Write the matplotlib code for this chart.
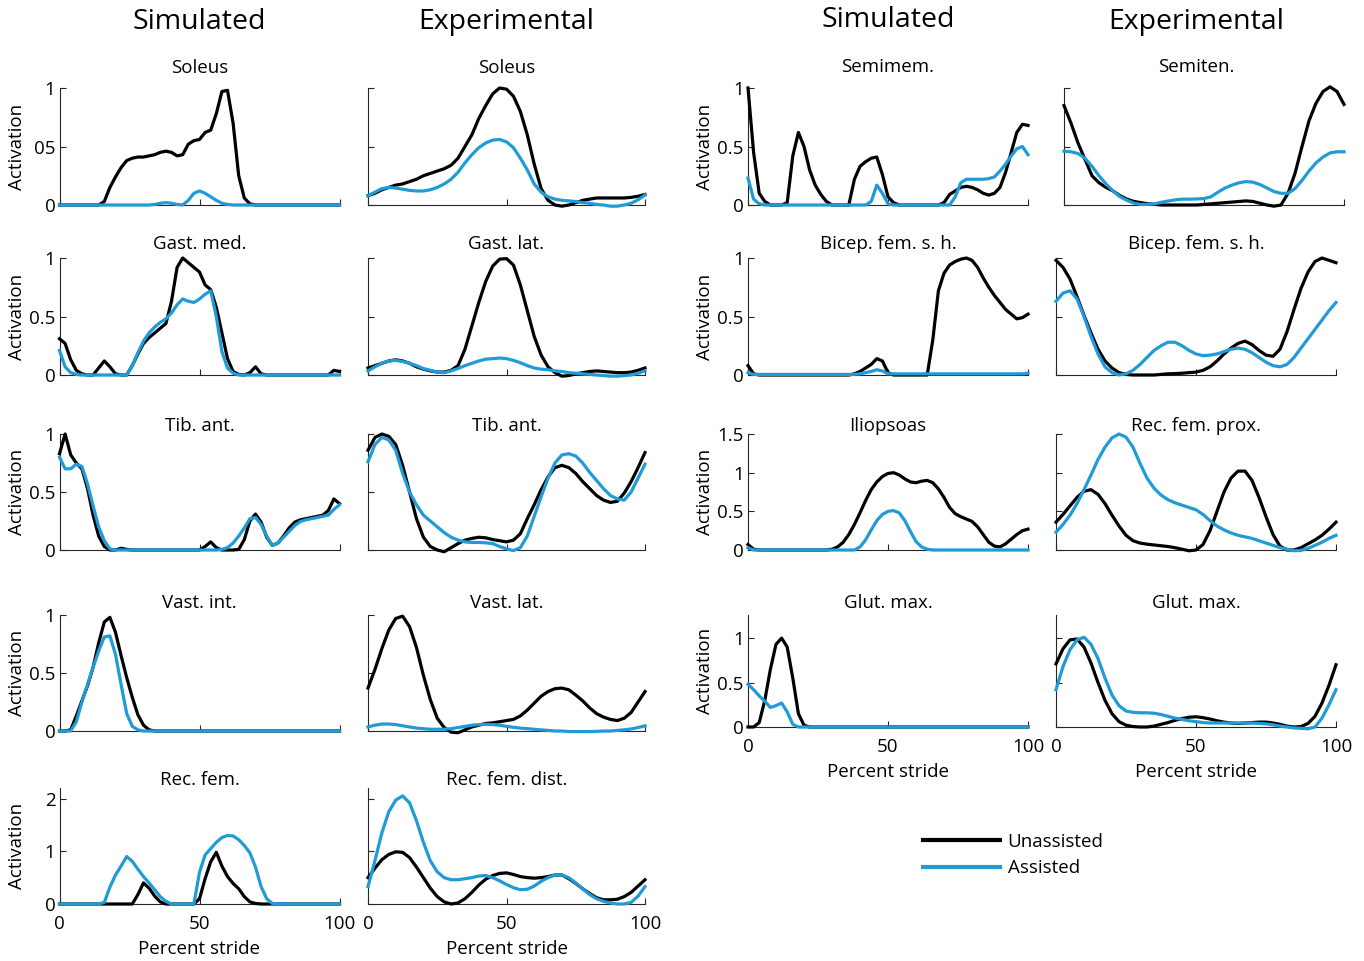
import numpy as np
import matplotlib
matplotlib.use('Agg')
import matplotlib.pyplot as plt

plt.rcParams['font.family'] = ['Open Sans', 'DejaVu Sans']

# figure size in pixels (dpi 100)
W, H = 1364, 961
BLACK = '#000000'
BLUE = '#1f9bd7'

# percent stride grids: simulated every 2 %, experimental every 2.5 %
X_SIM = np.linspace(0, 100, 51)
X_EXP = np.linspace(0, 100, 41)

# ---------------- left block ----------------
SOL_SIM_U = [0, 0, 0, 0, 0, 0, 0, 0, 0.03, 0.15, 0.24, 0.32, 0.38, 0.40, 0.41, 0.41, 0.42, 0.43,
             0.45, 0.46, 0.45, 0.42, 0.43, 0.52, 0.55, 0.56, 0.62, 0.64, 0.78, 0.97, 0.98, 0.70,
             0.25, 0.06, 0.01, 0, 0, 0, 0, 0, 0, 0, 0, 0, 0, 0, 0, 0, 0, 0, 0]
SOL_SIM_A = [0, 0, 0, 0, 0, 0, 0, 0, 0, 0, 0, 0, 0, 0, 0, 0, 0, 0.005, 0.015, 0.02, 0.015,
             0.005, 0.0, 0.04, 0.10, 0.12, 0.10, 0.07, 0.04, 0.015, 0.005, 0, 0, 0, 0, 0, 0,
             0, 0, 0, 0, 0, 0, 0, 0, 0, 0, 0, 0, 0, 0]
SOL_EXP_U = [0.08, 0.10, 0.13, 0.15, 0.17, 0.18, 0.20, 0.22, 0.25, 0.27, 0.29, 0.31, 0.34, 0.40,
             0.50, 0.60, 0.74, 0.85, 0.95, 1.0, 0.99, 0.93, 0.80, 0.60, 0.35, 0.14, 0.04, 0.0,
             -0.01, 0.0, 0.02, 0.04, 0.05, 0.06, 0.06, 0.06, 0.06, 0.06, 0.065, 0.075, 0.09]
SOL_EXP_A = [0.08, 0.11, 0.14, 0.15, 0.145, 0.135, 0.125, 0.12, 0.12, 0.13, 0.15, 0.18, 0.22,
             0.28, 0.36, 0.43, 0.49, 0.53, 0.555, 0.56, 0.54, 0.49, 0.40, 0.30, 0.18, 0.11, 0.07,
             0.05, 0.04, 0.035, 0.03, 0.02, 0.015, 0.005, 0.0, -0.01, -0.01, 0.0, 0.015, 0.045,
             0.085]

GM_SIM_U = [0.31, 0.27, 0.13, 0.04, 0.01, 0, 0, 0.06, 0.12, 0.07, 0.01, 0, 0, 0.08, 0.18, 0.27,
            0.32, 0.36, 0.40, 0.44, 0.63, 0.92, 1.0, 0.96, 0.92, 0.88, 0.77, 0.73, 0.58, 0.36,
            0.14, 0.03, 0.005, 0, 0.02, 0.07, 0.01, 0, 0, 0, 0, 0, 0, 0, 0, 0, 0, 0, 0, 0.04, 0.03]
GM_SIM_A = [0.21, 0.07, 0.02, 0.005, 0, 0, 0, 0, 0, 0, 0, 0, 0, 0.08, 0.19, 0.29, 0.36, 0.41,
            0.45, 0.48, 0.53, 0.60, 0.65, 0.63, 0.62, 0.65, 0.69, 0.72, 0.50, 0.20, 0.06, 0.015,
            0, 0, 0, 0, 0, 0, 0, 0, 0, 0, 0, 0, 0, 0, 0, 0, 0, 0, 0]
GL_EXP_U = [0.06, 0.08, 0.10, 0.12, 0.13, 0.12, 0.10, 0.07, 0.05, 0.035, 0.025, 0.025, 0.04,
            0.08, 0.22, 0.42, 0.62, 0.80, 0.93, 0.99, 0.995, 0.94, 0.77, 0.55, 0.33, 0.17, 0.07,
            0.02, -0.01, -0.005, 0.01, 0.02, 0.03, 0.035, 0.03, 0.025, 0.02, 0.02, 0.025, 0.04,
            0.06]
GL_EXP_A = [0.035, 0.07, 0.10, 0.12, 0.125, 0.115, 0.10, 0.08, 0.055, 0.04, 0.025, 0.02, 0.035,
            0.055, 0.08, 0.10, 0.12, 0.135, 0.14, 0.145, 0.14, 0.125, 0.105, 0.08, 0.06, 0.05,
            0.045, 0.035, 0.03, 0.02, 0.015, 0.01, 0.005, 0.0, -0.005, -0.01, -0.01, -0.005, 0.0,
            0.015, 0.035]

TA_SIM_U = [0.83, 1.0, 0.82, 0.75, 0.70, 0.53, 0.30, 0.12, 0.03, 0.0, 0, 0.015, 0.005, 0, 0, 0,
            0, 0, 0, 0, 0, 0, 0, 0, 0, 0, 0.03, 0.07, 0.02, 0, 0, 0, 0.005, 0.09, 0.25, 0.31,
            0.24, 0.11, 0.04, 0.06, 0.12, 0.19, 0.24, 0.26, 0.27, 0.28, 0.29, 0.30, 0.34, 0.44,
            0.40]
TA_SIM_A = [0.80, 0.70, 0.70, 0.74, 0.72, 0.57, 0.38, 0.20, 0.08, 0.01, 0, 0, 0, 0, 0, 0, 0, 0,
            0, 0, 0, 0, 0, 0, 0, 0, 0, 0, 0, 0.005, 0.02, 0.06, 0.12, 0.19, 0.27, 0.28, 0.22,
            0.12, 0.04, 0.06, 0.11, 0.16, 0.21, 0.245, 0.26, 0.27, 0.28, 0.29, 0.30, 0.35, 0.39]
TA_EXP_U = [0.86, 0.97, 1.0, 0.98, 0.91, 0.73, 0.50, 0.27, 0.11, 0.03, 0.0, -0.015, 0.02, 0.055,
            0.085, 0.10, 0.11, 0.105, 0.09, 0.08, 0.07, 0.085, 0.14, 0.27, 0.39, 0.52, 0.63, 0.71,
            0.73, 0.71, 0.66, 0.59, 0.53, 0.47, 0.43, 0.41, 0.42, 0.49, 0.59, 0.71, 0.84]
TA_EXP_A = [0.76, 0.91, 0.97, 0.95, 0.86, 0.66, 0.50, 0.39, 0.30, 0.25, 0.20, 0.15, 0.11, 0.085,
            0.07, 0.065, 0.065, 0.062, 0.055, 0.03, 0.01, -0.005, 0.02, 0.12, 0.29, 0.46, 0.62,
            0.75, 0.82, 0.83, 0.81, 0.75, 0.67, 0.60, 0.53, 0.47, 0.44, 0.43, 0.50, 0.62, 0.74]

VI_SIM_U = [0, 0, 0.01, 0.13, 0.26, 0.39, 0.55, 0.76, 0.94, 0.98, 0.85, 0.65, 0.46, 0.29, 0.14,
            0.05, 0.01, 0, 0, 0, 0, 0, 0, 0, 0, 0, 0, 0, 0, 0, 0, 0, 0, 0, 0, 0, 0, 0, 0, 0, 0,
            0, 0, 0, 0, 0, 0, 0, 0, 0, 0]
VI_SIM_A = [0, 0, 0.0, 0.08, 0.25, 0.40, 0.55, 0.69, 0.81, 0.82, 0.66, 0.40, 0.15, 0.04, 0.01,
            0, 0, 0, 0, 0, 0, 0, 0, 0, 0, 0, 0, 0, 0, 0, 0, 0, 0, 0, 0, 0, 0, 0, 0, 0, 0, 0, 0,
            0, 0, 0, 0, 0, 0, 0, 0]
VL_EXP_U = [0.37, 0.53, 0.71, 0.87, 0.97, 0.99, 0.90, 0.72, 0.48, 0.27, 0.11, 0.03, -0.01, -0.015,
            0.01, 0.035, 0.05, 0.065, 0.07, 0.08, 0.09, 0.10, 0.13, 0.18, 0.24, 0.30, 0.34, 0.365,
            0.37, 0.355, 0.31, 0.26, 0.20, 0.15, 0.12, 0.10, 0.09, 0.11, 0.16, 0.25, 0.34]
VL_EXP_A = [0.035, 0.05, 0.06, 0.06, 0.055, 0.045, 0.035, 0.025, 0.02, 0.015, 0.015, 0.015, 0.02,
            0.03, 0.04, 0.05, 0.055, 0.058, 0.055, 0.05, 0.04, 0.032, 0.025, 0.02, 0.015, 0.01,
            0.005, 0.0, 0.0, -0.005, -0.005, -0.005, -0.005, -0.003, 0.0, 0.0, 0.005, 0.01, 0.018,
            0.03, 0.045]

RF_SIM_U = [0, 0, 0, 0, 0, 0, 0, 0, 0, 0, 0, 0, 0, 0, 0.18, 0.40, 0.30, 0.15, 0.04, 0.0, 0, 0,
            0, 0, 0, 0.1, 0.48, 0.80, 0.98, 0.72, 0.52, 0.39, 0.29, 0.14, 0.04, 0.01, 0, 0, 0, 0,
            0, 0, 0, 0, 0, 0, 0, 0, 0, 0, 0]
RF_SIM_A = [0, 0, 0, 0, 0, 0, 0, 0, 0.03, 0.32, 0.55, 0.72, 0.90, 0.81, 0.66, 0.52, 0.40, 0.27,
            0.14, 0.05, 0.0, 0, 0, 0, 0, 0.6, 0.93, 1.05, 1.17, 1.26, 1.30, 1.29, 1.22, 1.11,
            0.97, 0.70, 0.33, 0.10, 0.01, 0, 0, 0, 0, 0, 0, 0, 0, 0, 0, 0, 0]
RFD_EXP_U = [0.50, 0.68, 0.84, 0.94, 0.99, 0.98, 0.88, 0.70, 0.50, 0.30, 0.14, 0.04, 0.0, 0.02,
             0.10, 0.22, 0.36, 0.47, 0.54, 0.58, 0.59, 0.56, 0.52, 0.50, 0.49, 0.50, 0.52, 0.55,
             0.55, 0.48, 0.39, 0.29, 0.20, 0.12, 0.08, 0.08, 0.09, 0.14, 0.22, 0.34, 0.46]
RFD_EXP_A = [0.33, 0.82, 1.35, 1.75, 1.97, 2.05, 1.92, 1.58, 1.17, 0.82, 0.61, 0.50, 0.46, 0.46,
             0.48, 0.50, 0.53, 0.54, 0.50, 0.44, 0.37, 0.31, 0.27, 0.28, 0.34, 0.43, 0.50, 0.55,
             0.55, 0.50, 0.40, 0.29, 0.18, 0.10, 0.05, 0.02, 0.0, 0.0, 0.03, 0.15, 0.33]

# ---------------- right block ----------------
SM_SIM_U = [1.0, 0.45, 0.10, 0.03, 0.0, 0, 0, 0.02, 0.42, 0.62, 0.50, 0.30, 0.17, 0.09, 0.03,
            0.0, 0, 0, 0, 0.22, 0.33, 0.37, 0.40, 0.41, 0.26, 0.07, 0.02, 0.0, 0, 0, 0, 0, 0, 0,
            0, 0.02, 0.09, 0.12, 0.15, 0.16, 0.15, 0.13, 0.10, 0.085, 0.10, 0.15, 0.28, 0.45,
            0.62, 0.69, 0.68]
SM_SIM_A = [0.23, 0.05, 0.01, 0, 0, 0, 0, 0, 0, 0, 0, 0, 0, 0, 0, 0, 0, 0, 0, 0, 0, 0, 0.03,
            0.17, 0.10, 0.01, 0, 0, 0, 0, 0, 0, 0, 0, 0, 0, 0, 0.07, 0.19, 0.22, 0.22, 0.22,
            0.22, 0.225, 0.24, 0.29, 0.35, 0.42, 0.48, 0.50, 0.43]
ST_EXP_U = [0.85, 0.70, 0.53, 0.39, 0.25, 0.19, 0.15, 0.12, 0.08, 0.05, 0.03, 0.02, 0.01, 0.005,
            0.0, 0.0, 0.0, 0.0, 0.0, 0.0, 0.005, 0.01, 0.015, 0.02, 0.025, 0.03, 0.035, 0.03,
            0.015, 0.0, -0.01, 0.0, 0.10, 0.27, 0.50, 0.72, 0.87, 0.97, 1.01, 0.97, 0.86]
ST_EXP_A = [0.46, 0.455, 0.44, 0.40, 0.33, 0.25, 0.18, 0.12, 0.07, 0.04, 0.015, 0.005, 0.005,
            0.01, 0.025, 0.035, 0.045, 0.05, 0.05, 0.052, 0.055, 0.07, 0.11, 0.145, 0.17, 0.19,
            0.20, 0.195, 0.175, 0.145, 0.115, 0.10, 0.10, 0.14, 0.21, 0.29, 0.36, 0.41, 0.445,
            0.455, 0.455]

BF_SIM_U = [0.08, 0.01, 0, 0, 0, 0, 0, 0, 0, 0, 0, 0, 0, 0, 0, 0, 0, 0, 0, 0.01, 0.03, 0.06,
            0.09, 0.14, 0.12, 0.02, 0, 0, 0, 0, 0, 0, 0, 0.30, 0.72, 0.87, 0.94, 0.97, 0.99, 1.0,
            0.98, 0.92, 0.83, 0.75, 0.68, 0.62, 0.56, 0.52, 0.48, 0.49, 0.52]
BF_SIM_A = [0.02, 0.005, 0.005, 0.005, 0.005, 0.005, 0.005, 0.005, 0.005, 0.005, 0.005, 0.005,
            0.005, 0.005, 0.005, 0.005, 0.005, 0.005, 0.005, 0.005, 0.01, 0.02, 0.03, 0.045,
            0.035, 0.01, 0.01, 0.01, 0.01, 0.01, 0.01, 0.01, 0.01, 0.01, 0.01, 0.01, 0.01, 0.01,
            0.01, 0.01, 0.01, 0.01, 0.01, 0.01, 0.01, 0.01, 0.01, 0.01, 0.01, 0.01, 0.015]
BF_EXP_U = [0.98, 0.92, 0.82, 0.67, 0.51, 0.36, 0.22, 0.12, 0.06, 0.02, 0.005, 0.0, 0.0, 0.0,
            0.0, 0.005, 0.01, 0.012, 0.015, 0.02, 0.025, 0.04, 0.07, 0.12, 0.18, 0.23, 0.27,
            0.29, 0.26, 0.21, 0.17, 0.16, 0.22, 0.37, 0.56, 0.74, 0.88, 0.97, 1.0, 0.98, 0.96]
BF_EXP_A = [0.63, 0.70, 0.72, 0.65, 0.50, 0.33, 0.18, 0.07, 0.02, 0.0, 0.01, 0.04, 0.09, 0.15,
            0.21, 0.25, 0.28, 0.28, 0.25, 0.21, 0.18, 0.165, 0.17, 0.18, 0.20, 0.22, 0.23, 0.22,
            0.19, 0.15, 0.11, 0.08, 0.07, 0.09, 0.15, 0.23, 0.31, 0.39, 0.47, 0.55, 0.62]

IL_SIM_U = [0.07, 0.01, 0, 0, 0, 0, 0, 0, 0, 0, 0, 0, 0, 0, 0, 0.01, 0.04, 0.10, 0.20, 0.33,
            0.48, 0.64, 0.78, 0.88, 0.95, 0.99, 1.0, 0.97, 0.92, 0.88, 0.87, 0.89, 0.90, 0.87,
            0.79, 0.68, 0.55, 0.47, 0.43, 0.40, 0.37, 0.30, 0.20, 0.10, 0.05, 0.04, 0.08, 0.14,
            0.20, 0.25, 0.27]
IL_SIM_A = [0.03, 0, 0, 0, 0, 0, 0, 0, 0, 0, 0, 0, 0, 0, 0, 0, 0, 0, 0, 0, 0.04, 0.13, 0.26,
            0.38, 0.46, 0.50, 0.51, 0.48, 0.38, 0.24, 0.11, 0.04, 0.01, 0, 0, 0, 0, 0, 0, 0, 0,
            0, 0, 0, 0, 0, 0, 0, 0, 0, 0]
RFP_EXP_U = [0.36, 0.46, 0.57, 0.68, 0.76, 0.78, 0.72, 0.60, 0.45, 0.31, 0.19, 0.12, 0.09, 0.075,
             0.065, 0.055, 0.045, 0.03, 0.01, -0.01, 0.0, 0.07, 0.25, 0.50, 0.75, 0.93, 1.02,
             1.02, 0.90, 0.68, 0.43, 0.20, 0.05, 0.0, 0.0, 0.03, 0.08, 0.13, 0.19, 0.27, 0.36]
RFP_EXP_A = [0.23, 0.33, 0.45, 0.60, 0.78, 0.97, 1.17, 1.33, 1.45, 1.50, 1.46, 1.33, 1.12, 0.93,
             0.80, 0.71, 0.65, 0.61, 0.58, 0.55, 0.52, 0.46, 0.38, 0.31, 0.26, 0.22, 0.19, 0.17,
             0.15, 0.12, 0.09, 0.06, 0.03, 0.01, -0.01, -0.005, 0.02, 0.06, 0.10, 0.15, 0.19]

GX_SIM_U = [0, 0, 0.05, 0.30, 0.65, 0.93, 1.0, 0.90, 0.55, 0.15, 0.02, 0, 0, 0, 0, 0, 0, 0, 0,
            0, 0, 0, 0, 0, 0, 0, 0, 0, 0, 0, 0, 0, 0, 0, 0, 0, 0, 0, 0, 0, 0, 0, 0, 0, 0, 0, 0,
            0, 0, 0, 0]
GX_SIM_A = [0.48, 0.42, 0.35, 0.29, 0.22, 0.24, 0.27, 0.17, 0.03, 0, 0, 0, 0, 0, 0, 0, 0, 0,
            0, 0, 0, 0, 0, 0, 0, 0, 0, 0, 0, 0, 0, 0, 0, 0, 0, 0, 0, 0, 0, 0, 0, 0, 0, 0, 0, 0,
            0, 0, 0, 0, 0]
GX_EXP_U = [0.71, 0.88, 0.98, 0.99, 0.90, 0.72, 0.50, 0.30, 0.15, 0.06, 0.02, 0.005, 0.0, 0.0,
            0.01, 0.03, 0.05, 0.075, 0.095, 0.11, 0.115, 0.105, 0.09, 0.07, 0.055, 0.045, 0.04,
            0.045, 0.05, 0.055, 0.055, 0.045, 0.03, 0.01, 0.0, 0.005, 0.04, 0.12, 0.27, 0.47, 0.70]
GX_EXP_A = [0.42, 0.68, 0.87, 0.98, 1.01, 0.93, 0.77, 0.55, 0.36, 0.24, 0.18, 0.165, 0.16, 0.16,
            0.155, 0.14, 0.12, 0.10, 0.085, 0.07, 0.06, 0.05, 0.045, 0.045, 0.045, 0.045, 0.045,
            0.045, 0.045, 0.04, 0.035, 0.025, 0.01, 0.0, -0.01, -0.015, -0.02, 0.0, 0.10, 0.25,
            0.42]

HEADERS = ['Simulated', 'Experimental', 'Simulated', 'Experimental']

# (title, column, row, unassisted, assisted)
PANELS = [
    ('Soleus', 0, 0, SOL_SIM_U, SOL_SIM_A),
    ('Soleus', 1, 0, SOL_EXP_U, SOL_EXP_A),
    ('Gast. med.', 0, 1, GM_SIM_U, GM_SIM_A),
    ('Gast. lat.', 1, 1, GL_EXP_U, GL_EXP_A),
    ('Tib. ant.', 0, 2, TA_SIM_U, TA_SIM_A),
    ('Tib. ant.', 1, 2, TA_EXP_U, TA_EXP_A),
    ('Vast. int.', 0, 3, VI_SIM_U, VI_SIM_A),
    ('Vast. lat.', 1, 3, VL_EXP_U, VL_EXP_A),
    ('Rec. fem.', 0, 4, RF_SIM_U, RF_SIM_A),
    ('Rec. fem. dist.', 1, 4, RFD_EXP_U, RFD_EXP_A),
    ('Semimem.', 2, 0, SM_SIM_U, SM_SIM_A),
    ('Semiten.', 3, 0, ST_EXP_U, ST_EXP_A),
    ('Bicep. fem. s. h.', 2, 1, BF_SIM_U, BF_SIM_A),
    ('Bicep. fem. s. h.', 3, 1, BF_EXP_U, BF_EXP_A),
    ('Iliopsoas', 2, 2, IL_SIM_U, IL_SIM_A),
    ('Rec. fem. prox.', 3, 2, RFP_EXP_U, RFP_EXP_A),
    ('Glut. max.', 2, 3, GX_SIM_U, GX_SIM_A),
    ('Glut. max.', 3, 3, GX_EXP_U, GX_EXP_A),
]

# ---------------- layout (pixels) ----------------
COL_X = [59.5, 368, 748, 1056]
COL_W = [280, 277, 280, 280]
HEAD_Y = [22, 22, 20, 22]
LEFT_ROWS = [(88, 205), (258, 375), (434, 550), (615, 731), (788, 904)]
RIGHT_ROWS = [(88, 205), (258, 375), (434, 550), (615, 727)]
LEFT_TITLE_Y = [68, 244, 426, 603, 780]
RIGHT_TITLE_Y = [67, 244, 426, 603]
LEFT_Y = [((0, 1), [0, 0.5, 1], ['0', '0.5', '1'])] * 4 + [((0, 2.2), [0, 1, 2], ['0', '1', '2'])]
RIGHT_Y = [((0, 1), [0, 0.5, 1], ['0', '0.5', '1']),
           ((0, 1), [0, 0.5, 1], ['0', '0.5', '1']),
           ((0, 1.5), [0, 0.5, 1, 1.5], ['0', '0.5', '1', '1.5']),
           ((0, 1.26), [0, 0.5, 1], ['0', '0.5', '1'])]
AX_COLOR = '#262626'
FS = 13.5


def place(x0, top, w, bottom):
    return [x0 / W, 1 - bottom / H, w / W, (bottom - top) / H]


fig = plt.figure(figsize=(W / 100, H / 100), dpi=100)

for c, head in enumerate(HEADERS):
    fig.text((COL_X[c] + COL_W[c] / 2) / W, 1 - HEAD_Y[c] / H, head,
             ha='center', va='center', fontsize=20.5)

handles = None
for title, col, row, u, a in PANELS:
    left_block = col < 2
    rows = LEFT_ROWS if left_block else RIGHT_ROWS
    top, bot = rows[row]
    x0 = COL_X[col] + (8 if title == 'Semiten.' else 0)
    ax = fig.add_axes(place(x0, top, COL_W[col], bot))

    x = X_SIM if col in (0, 2) else X_EXP
    lu, = ax.plot(x, u, color=BLACK, lw=2.3, clip_on=False, zorder=3,
                  solid_joinstyle='round')
    la, = ax.plot(x, a, color=BLUE, lw=2.3, clip_on=False, zorder=4,
                  solid_joinstyle='round')
    handles = (lu, la)

    ylim, yt, ytl = (LEFT_Y if left_block else RIGHT_Y)[row]
    ax.set_xlim(0, 100)
    ax.set_ylim(*ylim)
    ax.set_xticks([0, 50, 100])
    ax.set_yticks(yt)
    for s in ('top', 'right'):
        ax.spines[s].set_visible(False)
    for s in ('left', 'bottom'):
        ax.spines[s].set_color(AX_COLOR)
        ax.spines[s].set_linewidth(0.8)
    ax.tick_params(direction='in', length=4, width=0.8, colors=AX_COLOR,
                   labelcolor='black', labelsize=FS)
    ax.tick_params(axis='x', pad=8)
    ax.tick_params(axis='y', pad=3)

    if col in (0, 2):
        if title == 'Soleus':
            ytl = ['0', '05', '1']
        ax.set_yticklabels(ytl)
        ax.set_ylabel('Activation', fontsize=FS)
        ax.yaxis.set_label_coords(-43 / COL_W[col], 0.5)
        ax.yaxis.label.set_va('center')
    else:
        ax.set_yticklabels([])

    last = (row == len(rows) - 1)
    if last:
        ax.set_xticklabels(['0', '50', '100'])
        ax.set_xlabel('Percent stride', fontsize=FS)
        ax.xaxis.set_label_coords(0.5, -45 / (bot - top))
        ax.xaxis.label.set_va('center')
    else:
        ax.set_xticklabels([])

    ty = (LEFT_TITLE_Y if left_block else RIGHT_TITLE_Y)[row]
    fig.text((COL_X[col] + COL_W[col] / 2) / W, 1 - ty / H, title,
             ha='center', va='center', fontsize=FS)

leg = fig.legend(handles, ['Unassisted', 'Assisted'], loc='upper left',
                 bbox_to_anchor=(923 / W, 1 - 833 / H), frameon=False, fontsize=FS,
                 handlelength=4.1, handletextpad=0.42, labelspacing=0.45,
                 borderpad=0, borderaxespad=0)
for ln in leg.get_lines():
    ln.set_linewidth(3)

fig.savefig('out.png', dpi=100)
